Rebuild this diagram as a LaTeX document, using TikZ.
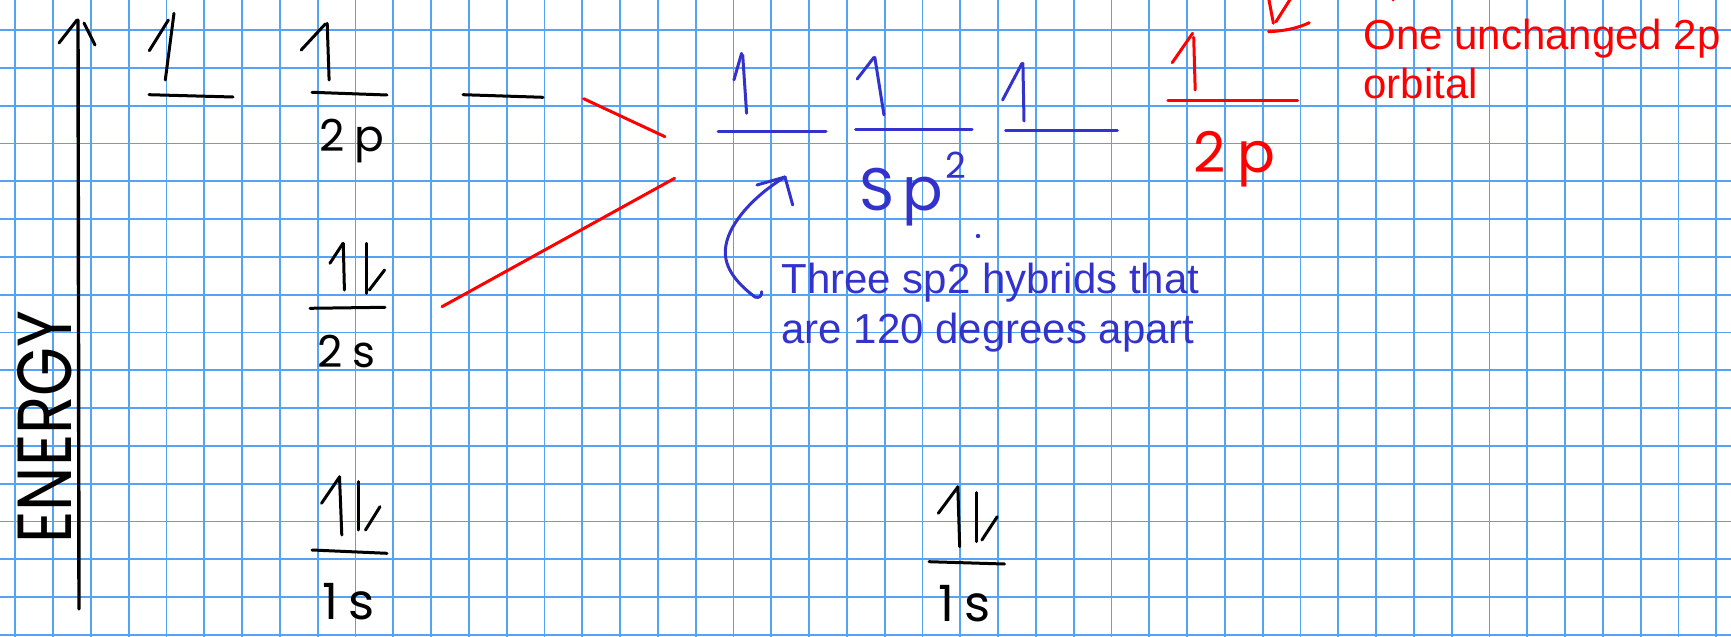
\documentclass[tikz,border=0pt]{standalone}
\usepackage{graphicx}
\usepackage{fontspec}
\setmainfont{Liberation Sans}
\newfontfamily\handfont{Poppins}
\newfontfamily\typedfont{Liberation Sans}
\newcommand\handsz[1]{\handfont\fontsize{#1}{#1}\selectfont}
\definecolor{gridblue}{RGB}{85,163,245}
\definecolor{inkblue}{RGB}{51,51,204}
\definecolor{inkred}{RGB}{255,0,0}
\begin{document}
\begin{tikzpicture}[x=0.5pt,y=-0.5pt,
  gridline/.style={draw=gridblue,line width=0.9pt},
  ink/.style={line width=1.5pt,line cap=round,line join=round},
  hand/.style={inner sep=0pt,anchor=base west},
  typed/.style={inner sep=0pt,anchor=base west,font=\typedfont\fontsize{21pt}{25pt}\selectfont}]
\useasboundingbox (0,0) rectangle (1731,637);
\fill[white] (0,0) rectangle (1731,637);
% grid (cell 37.8 px)
\foreach \k in {0,...,45}{
  \pgfmathsetmacro\gx{15.3+37.8*\k}
  \draw[gridline] (\gx,0) -- (\gx,637);
}
\foreach \k in {0,...,16}{
  \pgfmathsetmacro\gy{30+37.8*\k}
  \draw[gridline] (0,\gy) -- (1731,\gy);
}

% energy axis
\coordinate (axB) at (79,609);
\coordinate (axT) at (78,20);
\draw[ink,line width=1.7pt] (axB) -- (axT);
\draw[ink] (59,43) -- (77,20);
\draw[ink] (84,23) -- (95,45);
\node[inner sep=0pt,rotate=90] (energy) at (45,427) {\resizebox{116.5pt}{27pt}{\handfont ENERGY}};

% black levels
\draw[ink] (149,94.7) -- (233,97);
\draw[ink] (312,92.3) -- (387,95);
\draw[ink] (463,94.7) -- (543,97.3);
\draw[ink] (310,308.3) -- (385,307.3);
\draw[ink] (312,550) -- (387,553.3);
\draw[ink] (929,561.7) -- (1004.5,564);
% black spins
\draw[ink] (174,13.3) -- (165.3,80); \draw[ink] (149.3,50.7) -- (168.4,20);
\draw[ink] (327.2,23.3) -- (329.1,80); \draw[ink] (301.2,50) -- (325.3,24);
\draw[ink] (343.3,243.3) -- (344.4,290); \draw[ink] (329.9,263.3) -- (343,243.3);
\draw[ink] (366.2,243.3) -- (366.2,293.3); \draw[ink] (369.3,290) -- (384.6,270);
\draw[ink] (339.5,476.7) -- (341.8,535); \draw[ink] (321.5,503.3) -- (339.5,477);
\draw[ink] (358.6,481.7) -- (358.6,530); \draw[ink] (365.5,530) -- (380,506.7);
\draw[ink] (957.8,486.7) -- (959.7,546.7); \draw[ink] (938.3,513.3) -- (957.8,487);
\draw[ink] (976.2,492.7) -- (976.2,541.7); \draw[ink] (981.9,540) -- (997.2,516.7);
% black labels
\node[hand,font=\handsz{22pt}] (l2p) at (319,151) {2\kern5pt p};
\node[hand,font=\handsz{22pt}] (l2s) at (317,367) {2\kern5pt s};
\node[hand,font=\handsz{25pt}] (l1sa) at (322,619) {1\kern5pt s};
\node[hand,font=\handsz{25pt}] (l1sb) at (938,621) {1\kern5pt s};

% blue sp2 levels
\draw[ink,inkblue] (718,131) -- (826,131);
\draw[ink,inkblue] (742.7,55) -- (746.6,113.3); \draw[ink,inkblue] (733.9,80) -- (741.6,53.3);
\draw[ink,inkblue] (855.6,129.3) -- (972,129.3);
\draw[ink,inkblue] (874.8,57.3) -- (884,115); \draw[ink,inkblue] (857.2,79) -- (874,57.3);
\draw[ink,inkblue] (1005.7,130) -- (1117.4,130);
\draw[ink,inkblue] (1022.9,63.3) -- (1024,121); \draw[ink,inkblue] (1002.6,100) -- (1022,63.3);
\node[hand,text=inkblue,font=\handsz{30pt}] (lsp) at (859,210) {S\kern4pt p\kern1pt\raisebox{16pt}{\fontsize{18pt}{18pt}\selectfont 2}};
\fill[inkblue] (978,236) circle (2.2);

% blue curved arrow
\coordinate (cS) at (761.7,291.7);
\coordinate (cT) at (785,177);
\draw[ink,inkblue] (cS) .. controls (762,296) and (759,298.5) .. (755,297)
  .. controls (735,282) and (722,265) .. (726,245)
  .. controls (730,222) and (755,195) .. (cT);
\draw[ink,inkblue] (cT) -- (757,185);
\draw[ink,inkblue] (cT) -- (792.7,205);

% blue text
\node[typed,text=inkblue] (t1) at (781,293.3) {Three sp2 hybrids that};
\node[typed,text=inkblue] (t2) at (781,343.3) {are 120 degrees apart};

% red
\coordinate (ra1) at (583.6,98.7); \coordinate (ra2) at (665,136.7);
\coordinate (rb1) at (442,306.7); \coordinate (rb2) at (674.6,178.3);
\draw[ink,inkred] (ra1) -- (ra2);
\draw[ink,inkred] (rb1) -- (rb2);
\draw[ink,inkred] (1167.8,100.7) -- (1297.5,100.7);
\draw[ink,inkred] (1193.7,37.3) -- (1195.2,90); \draw[ink,inkred] (1172.2,62.7) -- (1192.6,33.3);
\node[hand,text=inkred,font=\handsz{28pt}] (l2pr) at (1193,172) {2\kern6pt p};
\draw[ink,inkred] (1268.6,-2) -- (1273.4,23.3);
\draw[ink,inkred] (1276,21.7) -- (1291,-2);
\draw[ink,inkred] (1268.6,31.7) .. controls (1285,31) and (1298,28) .. (1309.3,22.7);
\fill[inkred] (1393,0) circle (1.5);
\node[typed,text=inkred] (r1) at (1363,49.3) {One unchanged 2p};
\node[typed,text=inkred] (r2) at (1363,98.3) {orbital};
\end{tikzpicture}
\end{document}
